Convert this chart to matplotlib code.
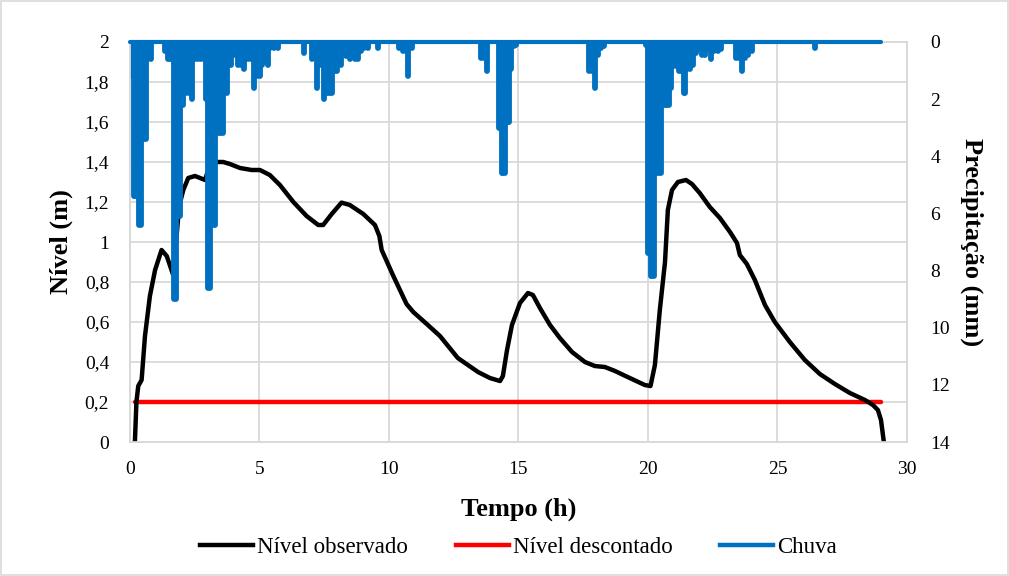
import numpy as np
import matplotlib
matplotlib.use("Agg")
import matplotlib.pyplot as plt
from matplotlib.ticker import FuncFormatter
from matplotlib.lines import Line2D

# nivel observado (h, m)
t_nivel = [0.19, 0.25, 0.32, 0.45, 0.58, 0.77, 0.97, 1.22, 1.42, 1.67, 1.9, 2.06, 2.25, 2.51,
           2.9, 3.02, 3.15, 3.6, 3.86, 4.25, 4.7, 5.02, 5.4, 5.79, 6.31, 6.82, 7.27, 7.46,
           7.79, 8.17, 8.49, 9.01, 9.46, 9.63, 9.72, 10.17, 10.68, 10.94, 11.46, 11.97,
           12.66, 13.44, 13.9, 14.29, 14.4, 14.56, 14.75, 15.06, 15.37, 15.56, 15.83, 16.22,
           16.6, 17.07, 17.57, 17.95, 18.34, 18.73, 19.3, 19.88, 20.1, 20.27, 20.46, 20.66,
           20.77, 20.93, 21.16, 21.47, 21.7, 22.0, 22.39, 22.78, 23.17, 23.44, 23.55, 23.82,
           24.13, 24.52, 24.9, 25.48, 26.06, 26.64, 27.22, 27.8, 28.38, 28.69, 28.88, 29.0, 29.11]
nivel = [0.0, 0.2, 0.28, 0.31, 0.53, 0.73, 0.86, 0.96, 0.93, 0.835, 1.18, 1.26, 1.32, 1.33,
         1.31, 1.36, 1.40, 1.40, 1.39, 1.37, 1.36, 1.36, 1.335, 1.285, 1.20, 1.13, 1.085, 1.085,
         1.14, 1.197, 1.185, 1.14, 1.085, 1.03, 0.96, 0.83, 0.69, 0.65, 0.59, 0.53,
         0.42, 0.35, 0.32, 0.305, 0.33, 0.46, 0.585, 0.695, 0.745, 0.735, 0.67, 0.585,
         0.52, 0.45, 0.40, 0.38, 0.375, 0.355, 0.32, 0.285, 0.28, 0.385, 0.66, 0.9,
         1.16, 1.26, 1.30, 1.31, 1.29, 1.245, 1.175, 1.12, 1.05, 0.995, 0.935, 0.89,
         0.81, 0.685, 0.60, 0.50, 0.41, 0.34, 0.29, 0.245, 0.21, 0.185, 0.16, 0.11, 0.0]

# nivel descontado
t_desc = [0.2, 29.0]
nivel_desc = [0.2, 0.2]

# chuva (h, mm)
t_chuva = [0.0, 0.08, 0.15, 0.21, 0.27, 0.35, 0.42, 0.5, 0.56, 0.62, 0.7, 0.8,
           1.35, 1.47, 1.55, 1.62, 1.70, 1.76, 1.86, 1.93, 2.05, 2.16, 2.28, 2.39, 2.5,
           2.63, 2.74, 2.86, 2.93, 3.01, 3.09, 3.2, 3.28, 3.36, 3.44, 3.51, 3.59, 3.67,
           3.75, 3.82, 3.9, 4.05, 4.17, 4.29, 4.4, 4.56, 4.67, 4.79, 4.9, 5.02, 5.1,
           5.25, 5.33, 5.4, 5.56, 5.71,
           6.72, 7.03, 7.22, 7.34, 7.49, 7.57, 7.64, 7.72, 7.8, 7.9, 8.0, 8.15, 8.34,
           8.49, 8.57, 8.69, 8.8, 8.92, 9.03, 9.19, 9.58, 10.39, 10.54, 10.64, 10.73, 10.89,
           13.55, 13.67, 13.78, 14.25, 14.31, 14.36, 14.42, 14.48, 14.54, 14.59, 14.65,
           14.71, 14.83, 14.9,
           17.72, 17.84, 17.95, 18.07, 18.19, 18.3,
           19.92, 20.0, 20.06, 20.12, 20.17, 20.23, 20.29, 20.35, 20.41, 20.5, 20.58,
           20.64, 20.69, 20.75, 20.81, 20.89, 21.0, 21.12, 21.2, 21.27, 21.35, 21.39, 21.45,
           21.51, 21.62, 21.74, 21.85, 21.97, 22.08, 22.2, 22.32, 22.43, 22.55, 22.7, 22.82,
           23.4, 23.51, 23.63, 23.75, 23.86, 24.02, 26.45]
chuva = [1.2, 1.2, 5.4, 5.4, 5.4, 6.4, 6.4, 3.4, 3.4, 3.4, 0.6, 0.6,
         0.3, 0.6, 0.6, 0.6, 9.0, 9.0, 6.1, 6.1, 2.2, 1.8, 1.8, 2.0, 0.6,
         0.6, 0.6, 0.6, 2.0, 8.6, 8.6, 6.4, 6.4, 3.2, 3.2, 3.2, 3.2, 1.8,
         1.8, 0.8, 0.8, 0.45, 0.8, 0.8, 0.95, 0.6, 0.6, 1.6, 1.2, 1.2, 0.8,
         0.7, 0.8, 0.2, 0.2, 0.2,
         0.4, 0.6, 1.6, 0.8, 2.0, 1.8, 1.8, 1.8, 1.8, 1.0, 1.0, 0.8, 0.5,
         0.6, 0.5, 0.6, 0.6, 0.3, 0.2, 0.2, 0.2, 0.2, 0.3, 0.3, 1.2, 0.2,
         0.55, 0.55, 1.0, 3.0, 3.0, 4.6, 4.6, 4.6, 2.8, 2.8, 2.8,
         0.95, 0.15, 0.1,
         1.0, 1.0, 1.6, 0.45, 0.2, 0.15,
         0.1, 7.4, 7.4, 8.2, 8.2, 8.2, 4.6, 4.6, 4.6, 4.6, 2.0,
         2.2, 2.2, 2.2, 2.2, 1.6, 0.85, 0.85, 1.0, 1.0, 1.0, 1.8, 1.8,
         0.95, 0.95, 0.8, 0.4, 0.25, 0.45, 0.45, 0.25, 0.6, 0.3, 0.3, 0.25,
         0.55, 0.55, 1.0, 0.55, 0.45, 0.3, 0.2]
t_chuva_ini, t_chuva_fim = 0.0, 29.0

preto = "#000000"
vermelho = "#FF0000"
azul = "#0070C0"
grade = "#D9D9D9"

plt.rcParams['font.family'] = ['Liberation Serif', 'DejaVu Serif']

fig = plt.figure(figsize=(10.09, 5.76), dpi=100)
ax = fig.add_axes([0.1288, 0.2326, 0.7700, 0.6945])
ax2 = ax.twinx()

ax.plot(t_desc, nivel_desc, color=vermelho, lw=3.2, solid_capstyle='round', zorder=3)
ax.plot(t_nivel, nivel, color=preto, lw=3.2, solid_capstyle='round', zorder=4)

# chuva: barras verticais penduradas no topo
ax2.vlines(t_chuva, 0, chuva, color=azul, lw=4.2, capstyle='round')
ax2.plot([t_chuva_ini, t_chuva_fim], [0, 0], color=azul, lw=3.0,
         solid_capstyle='round', clip_on=False, zorder=5)

ax.set_xlim(0, 30)
ax.set_ylim(0, 2)
ax2.set_ylim(14, 0)
ax.set_xticks(np.arange(0, 31, 5))
ax.set_yticks(np.arange(0, 2.01, 0.2))
ax2.set_yticks(np.arange(0, 15, 2))

virg = FuncFormatter(lambda v, p: ("%g" % round(v, 1)).replace(".", ","))
ax.yaxis.set_major_formatter(virg)

ax.grid(True, color=grade, lw=1.3)
ax.set_axisbelow(True)
for a in (ax, ax2):
    for s in a.spines.values():
        s.set_color(grade)
        s.set_linewidth(1.3)
    a.tick_params(length=0, labelsize=14)
ax.tick_params(axis='y', pad=15)
ax.tick_params(axis='x', pad=14)
ax2.tick_params(axis='y', pad=17)

ax.set_xlabel("Tempo (h)", fontsize=19, fontweight='bold', labelpad=14)
ax.set_ylabel("Nível (m)", fontsize=19, fontweight='bold', labelpad=8)
ax2.set_ylabel("Precipitação (mm)", fontsize=19, fontweight='bold', rotation=-90, labelpad=24)

handles = [Line2D([], [], color=preto, lw=3.2),
           Line2D([], [], color=vermelho, lw=3.2),
           Line2D([], [], color=azul, lw=3.2)]
fig.legend(handles, ["Nível observado", "Nível descontado", "Chuva"], loc='center',
           bbox_to_anchor=(0.514, 0.05), ncol=3, frameon=False, fontsize=16.5,
           handlelength=2.3, handletextpad=0.17, columnspacing=2.1)

fig.patches.append(plt.Rectangle((0.001, 0.001), 0.998, 0.998, transform=fig.transFigure,
                                 fill=False, edgecolor=grade, lw=1.2))

fig.savefig("out.png", dpi=100)
